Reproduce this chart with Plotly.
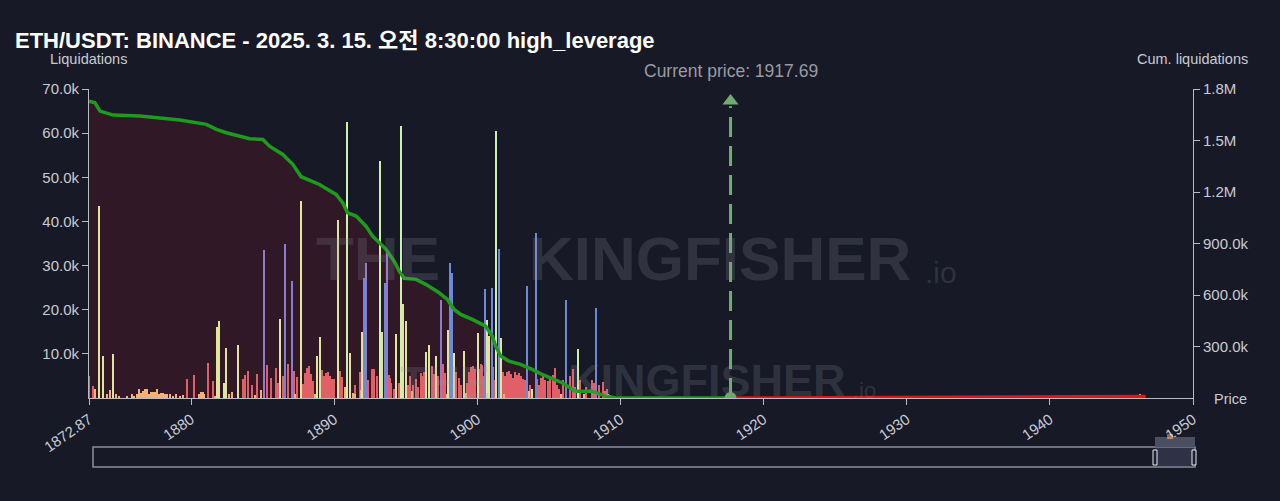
import plotly.graph_objects as go

# ---------------- data ----------------
title_text = "ETH/USDT: BINANCE - 2025. 3. 15. 오전 8:30:00 high_leverage"
current_price = 1917.69

# liquidation bars, split by colour group (price, value)
red_prices = [1872.89, 1873.13, 1879.75, 1880.24, 1881.23, 1881.58, 1883.67, 1883.81, 1884.0,
              1884.3, 1884.65, 1885.3, 1885.6, 1885.95, 1886.1, 1886.41, 1886.76, 1887.23, 1887.4,
              1887.82, 1887.96, 1888.1, 1888.24, 1888.37, 1888.51, 1889.14, 1889.28, 1889.42,
              1889.56, 1889.7, 1889.84, 1889.98, 1890.43, 1890.57, 1891.5, 1891.8, 1892.4, 1892.63,
              1892.78, 1893.0, 1893.81, 1893.9, 1894.0, 1894.19, 1894.51, 1895.17, 1895.3, 1895.5,
              1895.71, 1895.84, 1896.06, 1896.19, 1896.3, 1896.86, 1896.98, 1897.0, 1897.26,
              1897.63, 1897.75, 1898.5, 1898.72, 1898.86, 1899.3, 1899.42, 1899.56, 1899.7,
              1899.84, 1900.1, 1900.24, 1900.36, 1900.45, 1901.09, 1901.2, 1901.8, 1901.95,
              1902.07, 1902.21, 1902.35, 1902.49, 1902.63, 1902.8, 1902.94, 1903.08, 1903.21,
              1903.35, 1903.7, 1904.16, 1904.3, 1904.45, 1904.63, 1904.75, 1904.97, 1905.1,
              1905.32, 1905.46, 1905.6, 1905.69, 1906.0, 1906.5, 1906.72, 1906.84, 1907.2, 1907.6,
              1908.06, 1908.2, 1908.5, 1908.81, 1908.93, 1909.05]
red_values = [4900, 2700, 4200, 5100, 8000, 3800, 4200, 5200, 6100,
              3000, 5500, 7400, 4500, 6900, 3500, 5000, 7800, 6200, 4800,
              3200, 5600, 6900, 7300, 5400, 3800, 6400, 5000, 5600,
              5900, 4900, 4200, 4300, 6200, 4800, 3000, 6000, 4000, 6500,
              6600, 5000, 5300, 4500, 3500, 2000, 3500, 3000, 5000, 3000,
              4200, 2500, 5600, 5000, 6000, 7200, 5500, 4000, 5000,
              7800, 5600, 6000, 4600, 3000, 3500, 6000, 7000, 7200,
              6500, 6500, 7800, 7400, 5000, 7000, 4000, 6000, 5000,
              5800, 6200, 5500, 4500, 5800, 5200, 5600, 5000, 4300,
              4000, 3000, 4300, 3000, 4500, 5500, 4000, 3800, 4800,
              5200, 6900, 3000, 2000, 4000, 5000, 6600, 2500, 4000, 2500,
              4000, 3500, 3000, 3700, 1500, 2000]

orange_prices = [1873.32, 1874.12, 1874.33, 1874.75, 1874.96, 1875.52, 1875.87, 1876.01, 1876.22,
                 1876.35, 1876.49, 1876.63, 1876.77, 1876.91, 1877.05, 1877.19, 1877.33, 1877.47,
                 1877.61, 1877.75, 1877.89, 1878.03, 1878.17, 1878.31, 1878.51, 1878.72, 1878.93,
                 1879.21, 1879.42, 1880.54, 1880.68, 1880.82, 1880.95, 1881.72, 1882.7, 1882.88,
                 1884.51, 1884.9, 1887.3, 1888.69, 1890.78, 1891.34, 1891.48, 1891.9, 1895.45,
                 1897.89, 1899.21, 1901.86, 1903.6, 1905.83, 1907.44, 1909.17, 1909.3, 1909.58,
                 1946.11, 1946.32]
orange_values = [2000, 1000, 1800, 800, 500, 300, 1000, 500, 900,
                 2000, 1200, 1500, 2000, 2000, 1000, 1300, 1400, 1300,
                 2100, 1000, 1200, 1100, 900, 800, 1000, 500, 800,
                 400, 600, 1000, 1300, 1400, 1000, 500, 1000, 1400,
                 600, 1900, 1000, 1000, 2500, 1200, 800, 1800, 1500,
                 1000, 1200, 1000, 1500, 1000, 1000, 800, 600, 500,
                 600, 800]

yellow_prices = [1873.57, 1873.89, 1874.54, 1881.86, 1882.0, 1882.33, 1882.49, 1883.32, 1886.23,
                 1887.69, 1888.83, 1888.99, 1890.27, 1891.13, 1891.98, 1893.36, 1894.35, 1894.84,
                 1895.01, 1896.45, 1896.63, 1897.1, 1898.0, 1898.42, 1899.07, 1900.03, 1900.7,
                 1900.84, 1901.65, 1903.81]
yellow_values = [43600, 9600, 9900, 16000, 17400, 3300, 11300, 12000, 17800,
                 44600, 9600, 13900, 40400, 10300, 15000, 15000, 14600, 21200,
                 17400, 10500, 11900, 9500, 15500, 10300, 10600, 14800, 17600,
                 14000, 13700, 2000]

green_prices = [1890.94, 1893.22, 1894.66, 1901.35, 1907.02]
green_values = [62600, 53700, 61700, 60400, 11000]

blue_prices = [1892.08, 1893.55, 1898.08, 1898.26, 1900.54, 1901.02, 1901.51, 1903.46, 1904.09,
               1906.2, 1908.34]
blue_values = [27200, 26100, 30500, 28400, 24600, 25000, 33700, 25300, 37400,
               22200, 20300]

purple_prices = [1885.09, 1886.55, 1887.04, 1892.22, 1893.71, 1897.45]
purple_values = [33500, 34900, 26600, 30600, 32900, 22200]

# cumulative long liquidations (below current price)
cum_long_prices = [1872.87, 1872.89, 1873.29, 1873.64, 1874.56, 1876.42, 1879.21, 1881.07, 1881.77,
                   1882.47, 1884.09, 1885.02, 1885.48, 1886.41, 1887.11, 1887.69, 1888.97, 1890.13,
                   1890.59, 1890.94, 1891.53, 1892.22, 1892.68, 1893.15, 1893.62, 1894.19, 1894.54,
                   1894.89, 1895.71, 1896.4, 1897.33, 1897.91, 1898.38, 1898.84, 1899.65, 1900.58,
                   1901.04, 1901.28, 1901.63, 1902.2, 1903.02, 1903.83, 1904.53, 1905.92, 1906.86,
                   1908.01, 1908.95, 1909.64, 1912.0, 1917.69]
cum_long_values = [1733000, 1729000, 1720000, 1671000, 1648000, 1642000, 1619000, 1594000, 1565000,
                   1545000, 1510000, 1506000, 1467000, 1419000, 1361000, 1289000, 1244000, 1186000,
                   1138000, 1079000, 1060000, 1001000, 943000, 905000, 866000, 797000, 739000,
                   697000, 691000, 662000, 613000, 574000, 516000, 487000, 458000, 419000,
                   361000, 302000, 244000, 215000, 196000, 167000, 137000, 89000, 40000,
                   40000, 11000, 2000, 0, 0]

# cumulative short liquidations (above current price)
cum_short_prices = [1917.69, 1925.0, 1935.0, 1943.0, 1946.11, 1946.7]
cum_short_values = [0, 1500, 3000, 4500, 6000, 9000]

x_tickvals = [1872.87, 1880, 1890, 1900, 1910, 1920, 1930, 1940, 1950]
x_ticktext = ["1872.87", "1880", "1890", "1900", "1910", "1920", "1930", "1940", "1950"]
liq_tickvals = [10000, 20000, 30000, 40000, 50000, 60000, 70000]
liq_ticktext = ["10.0k", "20.0k", "30.0k", "40.0k", "50.0k", "60.0k", "70.0k"]
cum_tickvals = [300000, 600000, 900000, 1200000, 1500000, 1800000]
cum_ticktext = ["300.0k", "600.0k", "900.0k", "1.2M", "1.5M", "1.8M"]

# ---------------- style ----------------
BG = "#171a26"
AXC = "#b9bbc6"
TXT = "#c9cad3"
FONT = "Liberation Sans, Arial, Noto Sans CJK KR, sans-serif"
BAR_W = 0.1

fig = go.Figure()

# filled cumulative area (bottom layer, primary axis)
fig.add_trace(go.Scatter(x=cum_long_prices, y=cum_long_values, mode="lines",
                         line=dict(width=0, color="rgba(0,0,0,0)"),
                         fill="tozeroy", fillcolor="#301826", yaxis="y",
                         hoverinfo="skip", showlegend=False))

bar_groups = [
    (red_prices, red_values, "#e15f66"),
    (orange_prices, orange_values, "#efb27e"),
    (yellow_prices, yellow_values, "#e1e49b"),
    (green_prices, green_values, "#cdf1ac"),
    (blue_prices, blue_values, "#6f88d8"),
    (purple_prices, purple_values, "#8c7cc9"),
]
for px_, vals, col in bar_groups:
    fig.add_trace(go.Bar(x=px_, y=vals, width=BAR_W, marker=dict(color=col, line=dict(width=0)),
                         yaxis="y2", showlegend=False))

# cumulative lines on top
fig.add_trace(go.Scatter(x=cum_long_prices, y=cum_long_values, mode="lines",
                         line=dict(color="#1f9a1f", width=3.5), yaxis="y3", showlegend=False))
fig.add_trace(go.Scatter(x=cum_short_prices, y=cum_short_values, mode="lines",
                         line=dict(color="#e01515", width=3.5), yaxis="y3", showlegend=False))

# current price dashed arrow + dot
fig.add_trace(go.Scatter(x=[current_price, current_price], y=[0, 1700000], mode="lines",
                         line=dict(color="#6fae6f", width=3, dash="20px,9px"),
                         yaxis="y3", showlegend=False))
fig.add_trace(go.Scatter(x=[current_price], y=[1730000], mode="markers",
                         marker=dict(symbol="triangle-up", size=14, color="#6fae6f"),
                         yaxis="y3", showlegend=False))
fig.add_trace(go.Scatter(x=[current_price], y=[0], mode="markers",
                         marker=dict(symbol="circle", size=12, color="#6aa86a"),
                         yaxis="y3", showlegend=False))

axis_common = dict(showline=True, linecolor=AXC, linewidth=1, ticks="outside", ticklen=6,
                   tickcolor=AXC, tickfont=dict(color=TXT, size=15, family=FONT),
                   showgrid=False, zeroline=False)

fig.update_layout(
    width=1280, height=501,
    paper_bgcolor=BG, plot_bgcolor=BG,
    margin=dict(l=89, r=87, t=89, b=103),
    barmode="overlay",
    bargap=0,
    font=dict(family=FONT, color=TXT),
    title=dict(text="<b>" + title_text + "</b>", x=15 / 1280, xref="container", xanchor="left",
               y=1 - 40 / 501, yref="container", yanchor="middle",
               font=dict(size=22, color="#ffffff", family=FONT)),
    xaxis=dict(range=[1872.87, 1950], tickvals=x_tickvals, ticktext=x_ticktext, tickangle=-35,
               **axis_common),
    yaxis=dict(range=[0, 1800000], side="right", tickvals=cum_tickvals, ticktext=cum_ticktext,
               **axis_common),
    yaxis2=dict(range=[0, 70000], side="left", overlaying="y", tickvals=liq_tickvals,
                ticktext=liq_ticktext, **axis_common),
    yaxis3=dict(range=[0, 1800000], overlaying="y", visible=False),
    hovermode=False,
)

# watermark text
wm = "rgba(150,150,170,0.20)"
WMF = "Liberation Sans, Arial"
for txt, x, y, s, bold in [("THE", 378, 258, 62, True), ("KINGFISHER", 720, 258, 62, True),
                           (".io", 941, 272, 30, False),
                           ("THE", 445, 382, 45, True), ("KINGFISHER", 707, 380, 45, True),
                           (".io", 864, 390, 22, False)]:
    fig.add_annotation(text=("<b>%s</b>" % txt) if bold else txt,
                       x=(x - 89) / 1104, y=(398 - y) / 309, xref="paper", yref="paper",
                       xanchor="center", yanchor="middle", showarrow=False,
                       font=dict(size=s, color=wm, family=WMF))

# axis titles
fig.add_annotation(text="Liquidations", x=(88 - 89) / 1104, y=(398 - 59) / 309, xref="paper",
                   yref="paper", showarrow=False, xanchor="center", yanchor="middle",
                   font=dict(size=14.5, color=TXT))
fig.add_annotation(text="Cum. liquidations", x=(1192 - 89) / 1104, y=(398 - 59) / 309,
                   xref="paper", yref="paper", showarrow=False, xanchor="center",
                   yanchor="middle", font=dict(size=14.5, color=TXT))
fig.add_annotation(text="Price", x=(1230 - 89) / 1104, y=(398 - 399) / 309, xref="paper",
                   yref="paper", showarrow=False, xanchor="center", yanchor="middle",
                   font=dict(size=14.5, color=TXT))
fig.add_annotation(text="Current price: " + str(current_price), x=current_price,
                   y=(398 - 71) / 309, xref="x", yref="paper", showarrow=False,
                   xanchor="center", yanchor="middle", font=dict(size=17.5, color="#9a9ba3"))

# range-slider look
def px2x(p):
    return (p - 89) / 1104

def py2y(p):
    return (398 - p) / 309

fig.add_shape(type="rect", xref="paper", yref="paper", x0=px2x(93), x1=px2x(1195),
              y0=py2y(467), y1=py2y(447), line=dict(color="#8d8f99", width=1.5))
fig.add_shape(type="rect", xref="paper", yref="paper", x0=px2x(1155), x1=px2x(1195),
              y0=py2y(467), y1=py2y(447), line=dict(width=0),
              fillcolor="rgba(90,96,125,0.35)")
fig.add_shape(type="rect", xref="paper", yref="paper", x0=px2x(1155), x1=px2x(1195),
              y0=py2y(447), y1=py2y(437), line=dict(width=0), fillcolor="#4b4f63")
for hx in (1155, 1194):
    fig.add_shape(type="rect", xref="paper", yref="paper", x0=px2x(hx - 2), x1=px2x(hx + 2),
                  y0=py2y(465), y1=py2y(450), line=dict(color="#e8e8ee", width=1),
                  fillcolor="#1d2030")
fig.add_annotation(text="III", x=px2x(1175), y=py2y(442), xref="paper", yref="paper",
                   showarrow=False, font=dict(size=7, color="#ffffff"))

fig.write_html("out.html", config={"displayModeBar": False},
               post_script="document.body.style.margin='0';")
